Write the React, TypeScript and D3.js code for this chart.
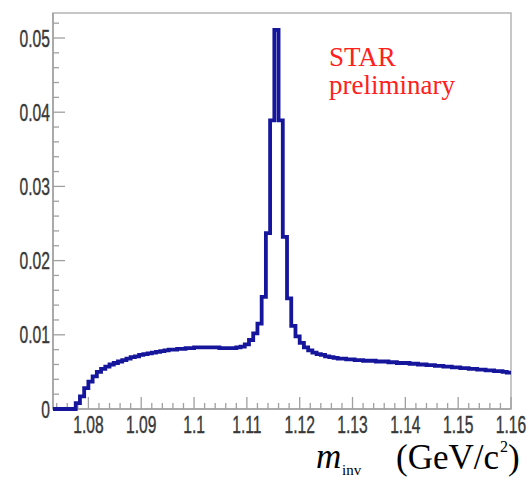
import React from "react";
import * as d3 from "d3";

// Histogram definition (bin edges at multiples of 0.0008 GeV/c^2)
const binStart = 1.0728;
const binWidth = 0.0008;
const binValues: number[] = [
  0, 0, 0, 0, 0, 0, 0.0008, 0.0017, 0.0028, 0.0037,
  0.0044, 0.005, 0.0054, 0.0057, 0.006, 0.0062, 0.0064, 0.0066, 0.0068, 0.007,
  0.0071, 0.0073, 0.0074, 0.0075, 0.0076, 0.0077, 0.0078, 0.0079, 0.008, 0.008,
  0.0081, 0.0081, 0.0082, 0.0082, 0.0083, 0.0083, 0.0083, 0.0083, 0.0083, 0.0083,
  0.0082, 0.0082, 0.0082, 0.0082, 0.0083, 0.0084, 0.0087, 0.0093, 0.0102, 0.0115,
  0.0151, 0.0237, 0.0389, 0.0511, 0.0389, 0.0232, 0.0149, 0.0112, 0.0098, 0.0089,
  0.0083, 0.0079, 0.0076, 0.0074, 0.0073, 0.0071, 0.007, 0.0069, 0.0068, 0.0068,
  0.0067, 0.0067, 0.0066, 0.0066, 0.0065, 0.0065, 0.0065, 0.0064, 0.0064, 0.0064,
  0.0063, 0.0063, 0.0062, 0.0062, 0.0062, 0.0061, 0.0061, 0.006, 0.006, 0.0059,
  0.0059, 0.0058, 0.0058, 0.0057, 0.0057, 0.0056, 0.0056, 0.0055, 0.0055, 0.0054,
  0.0054, 0.0053, 0.0053, 0.0052, 0.0052, 0.0051, 0.0051, 0.005, 0.0049,
];

const xDomain: [number, number] = [1.0733, 1.16];
const yDomain: [number, number] = [0, 0.05337];
const xMajorTicks = [1.08, 1.09, 1.1, 1.11, 1.12, 1.13, 1.14, 1.15, 1.16];
const xTickLabels = ["1.08", "1.09", "1.1", "1.11", "1.12", "1.13", "1.14", "1.15", "1.16"];
const yMajorTicks = [0, 0.01, 0.02, 0.03, 0.04, 0.05];
const yTickLabels = ["0", "0.01", "0.02", "0.03", "0.04", "0.05"];
const minorStep = 0.002;

const left = 53, right = 511, top = 13, bottom = 409;

export default function App() {
  const x = d3.scaleLinear().domain(xDomain).range([left, right]);
  const y = d3.scaleLinear().domain(yDomain).range([bottom, top]);

  const pts: [number, number][] = binValues.map((v, i) => [binStart + i * binWidth, v]);
  pts.push([binStart + binValues.length * binWidth, binValues[binValues.length - 1]]);
  const line = d3
    .line<[number, number]>()
    .x((d) => x(d[0]))
    .y((d) => y(d[1]))
    .curve(d3.curveStepAfter);

  const xMinor: number[] = [];
  for (let k = Math.ceil(xDomain[0] / minorStep - 1e-6); k * minorStep <= xDomain[1] + 1e-9; k++) {
    const v = +(k * minorStep).toFixed(4);
    if (!xMajorTicks.some((t) => Math.abs(t - v) < 1e-7)) xMinor.push(v);
  }
  const yMinor: number[] = [];
  for (let k = 0; k * minorStep <= yDomain[1]; k++) {
    const v = +(k * minorStep).toFixed(4);
    if (!yMajorTicks.some((t) => Math.abs(t - v) < 1e-7)) yMinor.push(v);
  }

  const axisColor = "#a0a0a0";
  const labelColor = "#383838";
  const labelFont = "'Liberation Sans', Arial, Helvetica, sans-serif";
  const serif = "'Liberation Serif', 'Times New Roman', serif";

  return (
    <svg
      width={529}
      height={481}
      style={{ position: "absolute", left: 0, top: 0, background: "#fff" }}
    >
      <defs>
        <clipPath id="frameClip">
          <rect x={left} y={0} width={right - left} height={bottom + 2} />
        </clipPath>
      </defs>
      <rect x={0} y={0} width={529} height={481} fill="#fff" />

      {/* frame */}
      <rect x={left} y={top} width={right - left} height={bottom - top} fill="none" stroke="#b4b4b4" strokeWidth={1.5} />

      {/* y ticks */}
      {yMajorTicks.map((t) => (
        <line key={"ym" + t} x1={left} x2={left + 12} y1={y(t)} y2={y(t)} stroke={axisColor} strokeWidth={1.3} />
      ))}
      {yMinor.map((t) => (
        <line key={"yn" + t} x1={left} x2={left + 6} y1={y(t)} y2={y(t)} stroke={axisColor} strokeWidth={1.3} />
      ))}
      {/* x ticks */}
      {xMajorTicks.map((t) => (
        <line key={"xm" + t} x1={x(t)} x2={x(t)} y1={bottom} y2={bottom - 12} stroke={axisColor} strokeWidth={1.3} />
      ))}
      {xMinor.map((t) => (
        <line key={"xn" + t} x1={x(t)} x2={x(t)} y1={bottom} y2={bottom - 6} stroke={axisColor} strokeWidth={1.3} />
      ))}
      <line x1={left} x2={right} y1={bottom} y2={bottom} stroke={axisColor} strokeWidth={1.5} />
      <line x1={left} x2={left} y1={top} y2={bottom} stroke={axisColor} strokeWidth={1.5} />

      {/* y tick labels */}
      {yMajorTicks.map((t, i) => (
        <text
          key={"yl" + t}
          transform={`translate(${left - 3},${y(t) + 8.5}) scale(0.68,1)`}
          textAnchor="end"
          fontFamily={labelFont}
          fontSize={23}
          fill={labelColor}
          stroke={labelColor}
          strokeWidth={0.4}
        >
          {yTickLabels[i]}
        </text>
      ))}
      {/* x tick labels */}
      {xMajorTicks.map((t, i) => (
        <text
          key={"xl" + t}
          transform={`translate(${x(t)},${bottom + 24}) scale(0.68,1)`}
          textAnchor="middle"
          fontFamily={labelFont}
          fontSize={23}
          fill={labelColor}
          stroke={labelColor}
          strokeWidth={0.4}
        >
          {xTickLabels[i]}
        </text>
      ))}

      {/* histogram */}
      <path
        d={line(pts) || ""}
        fill="none"
        stroke="#16169c"
        strokeWidth={3.8}
        strokeLinejoin="miter"
        clipPath="url(#frameClip)"
      />

      {/* STAR preliminary */}
      <text x={329} y={66} fontFamily={serif} fontSize={27} fill="#ff2020">STAR</text>
      <text x={329} y={94} fontFamily={serif} fontSize={27} fill="#ff2020">preliminary</text>

      {/* axis title */}
      <text fontFamily={serif} fill="#000" fontSize={35}>
        <tspan x={316} y={468} fontStyle="italic">m</tspan>
        <tspan x={342} y={475} fontSize={15}>inv</tspan>
        <tspan x={396} y={469}>(GeV/c</tspan>
        <tspan x={500} y={452} fontSize={16}>2</tspan>
        <tspan x={508} y={469}>)</tspan>
      </text>
    </svg>
  );
}
